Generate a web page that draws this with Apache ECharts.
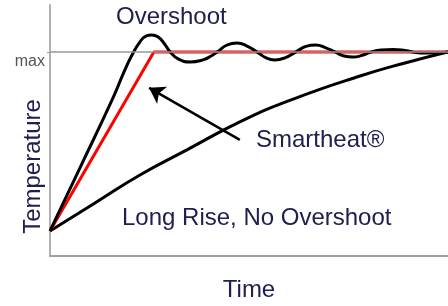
<!DOCTYPE html>
<html>
<head>
<meta charset="utf-8">
<script src="https://cdn.jsdelivr.net/npm/echarts@6/dist/echarts.min.js"></script>
<style>
  html, body { margin: 0; padding: 0; background: #fff; }
  #chart { width: 448px; height: 306px; }
</style>
</head>
<body>
<div id="chart"></div>
<script>
// time runs 0..100, temperature 100 = setpoint (max)
var setpoint = 100;
var yTickValues = [100];
var yTickLabels = ['max'];

var overshootX = [0, 7.5, 15.6, 18.6, 20.6, 22.6, 24.1, 25.6, 27.1, 28.6, 30.2, 32.2, 35.2, 38.4, 40.5, 42.0, 44.5, 47.0, 49.5, 52.0, 54.3, 56.5, 59.0, 61.8, 64.3, 66.8, 69.3, 71.6, 73.9, 76.1, 78.4, 80.4, 83.2, 86.2, 89.2, 93.0, 96.5, 100];
var overshootY = [12.3, 43.1, 76.5, 90.2, 98.5, 104.9, 107.8, 108.3, 107.4, 104.4, 100, 96.6, 95.1, 96.1, 98.0, 100, 103.4, 104.4, 102.9, 100, 97.1, 96.1, 97.1, 100, 102.7, 103.4, 102.0, 100, 98.0, 97.5, 98.3, 99.8, 101.0, 101.2, 100.7, 99.5, 99.5, 100];

var smartX = [0, 26.1, 100];
var smartY = [12.3, 100, 100];

var longRiseX = [0, 11.3, 22.6, 34.4, 47.7, 60.6, 77.9, 89.2, 100];
var longRiseY = [12.3, 26.0, 39.7, 52.0, 65.7, 76.5, 88.2, 94.6, 100];

// arrow pointing at the Smartheat curve: [tail, tip]
var arrowX = [47.7, 24.9];
var arrowY = [56.9, 82.4];

function pairs(xs, ys) {
    var out = [];
    for (var i = 0; i < xs.length; ++i) out.push([xs[i], ys[i]]);
    return out;
}

var textColor = '#202050';
var font = 'Liberation Sans, Arial, sans-serif';

var myChart = echarts.init(document.getElementById('chart'));
var option = {
    animation: false,
    grid: { left: 50, right: 0, top: 5, bottom: 50, containLabel: false, outerBoundsMode: 'none' },
    xAxis: {
        type: 'value',
        min: 0,
        max: 100,
        name: 'Time',
        nameLocation: 'middle',
        nameGap: 22,
        nameMoveOverlap: false,
        nameTextStyle: { color: textColor, fontSize: 24, fontFamily: font },
        axisLine: { lineStyle: { color: '#a0a0a0', width: 2 } },
        axisTick: { show: false },
        axisLabel: { show: false },
        splitLine: { show: false }
    },
    yAxis: {
        type: 'value',
        min: 0,
        max: 123,
        name: 'Temperature',
        nameLocation: 'middle',
        nameRotate: 90,
        nameGap: 5,
        nameMoveOverlap: false,
        nameTextStyle: { color: textColor, fontSize: 24, fontFamily: font, padding: [0, 72, 0, 0] },
        axisLine: { show: true, lineStyle: { color: '#b0b0b0', width: 2 } },
        axisTick: { show: true, customValues: yTickValues, length: 3, lineStyle: { color: '#999' } },
        axisLabel: {
            show: true,
            customValues: yTickValues,
            formatter: function (v) { return yTickLabels[yTickValues.indexOf(v)]; },
            color: '#555',
            fontSize: 16,
            fontFamily: font,
            verticalAlign: 'top',
            margin: 5,
            padding: [2, 0, 0, 0]
        },
        splitLine: { show: false }
    },
    series: [
        {
            name: 'Long Rise',
            type: 'line',
            smooth: true,
            symbol: 'none',
            data: pairs(longRiseX, longRiseY),
            lineStyle: { color: '#000', width: 3 },
            markLine: {
                silent: true,
                label: { show: false },
                data: [
                    [
                        { coord: [0, setpoint], symbol: 'none', lineStyle: { color: '#999', width: 1.5, type: 'solid' } },
                        { coord: [100, setpoint], symbol: 'none' }
                    ],
                    [
                        { coord: [arrowX[0], arrowY[0]], symbol: 'none', lineStyle: { color: '#000', width: 2.5, type: 'solid' } },
                        { coord: [arrowX[1], arrowY[1]], symbol: 'arrow', symbolSize: 15 }
                    ]
                ]
            }
        },
        {
            name: 'Smartheat',
            type: 'line',
            symbol: 'none',
            data: pairs(smartX, smartY),
            lineStyle: { color: '#ff0000', width: 3 }
        },
        {
            name: 'Overshoot',
            type: 'line',
            smooth: true,
            symbol: 'none',
            data: pairs(overshootX, overshootY),
            lineStyle: { color: '#000', width: 3 }
        }
    ],
    graphic: [
        { type: 'text', left: 116, top: 5, style: { text: 'Overshoot', fill: textColor, fontSize: 24, fontFamily: font } },
        { type: 'text', left: 256, top: 128, style: { text: 'Smartheat®', fill: textColor, fontSize: 24, fontFamily: font } },
        { type: 'text', left: 122, top: 206, style: { text: 'Long Rise, No Overshoot', fill: textColor, fontSize: 24, fontFamily: font } }
    ]
};
myChart.setOption(option);
</script>
</body>
</html>
